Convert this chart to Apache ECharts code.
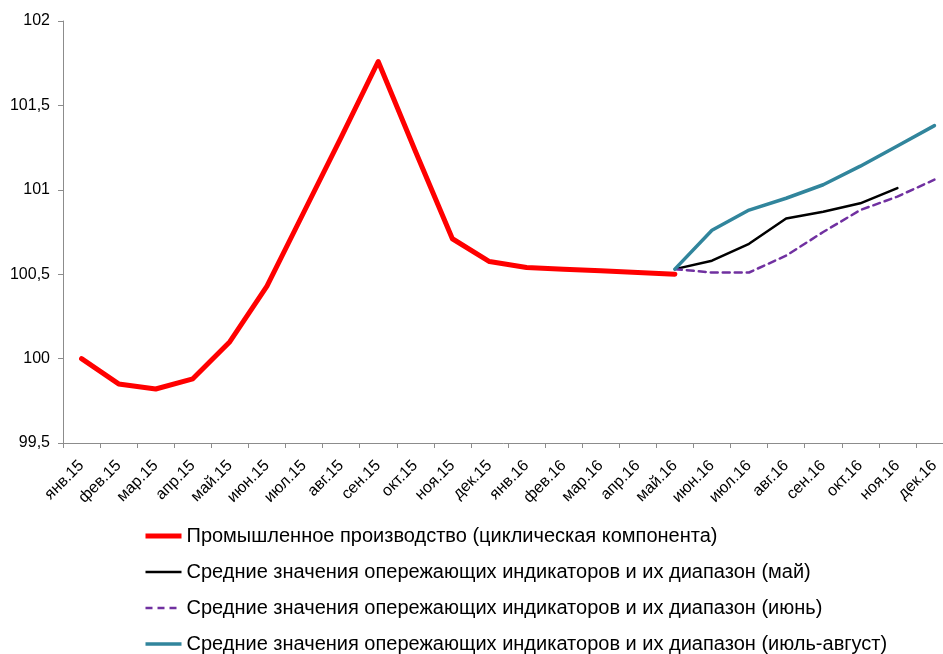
<!DOCTYPE html>
<html>
<head>
<meta charset="utf-8">
<script src="https://cdn.jsdelivr.net/npm/echarts@6/dist/echarts.min.js"></script>
<style>
  html, body { margin: 0; padding: 0; background: #fff; }
  #chart { width: 943px; height: 654px; }
</style>
</head>
<body>
<div id="chart"></div>
<script>
// Months, Jan 2015 – Dec 2016
const months = [
  'янв.15', 'фев.15', 'мар.15', 'апр.15', 'май.15', 'июн.15', 'июл.15', 'авг.15',
  'сен.15', 'окт.15', 'ноя.15', 'дек.15', 'янв.16', 'фев.16', 'мар.16', 'апр.16',
  'май.16', 'июн.16', 'июл.16', 'авг.16', 'сен.16', 'окт.16', 'ноя.16', 'дек.16'
];

// Industrial production, cyclical component
const industry = [
  100.00, 99.85, 99.82, 99.88, 100.10, 100.43, 100.87, 101.31,
  101.76, 101.23, 100.71, 100.575, 100.54, 100.53, 100.52, 100.51,
  100.50, null, null, null, null, null, null, null
];

// Leading-indicator averages: May vintage
const forecastMay = [
  null, null, null, null, null, null, null, null,
  null, null, null, null, null, null, null, null,
  100.53, 100.58, 100.68, 100.83, 100.87, 100.92, 101.01, null
];

// June vintage
const forecastJune = [
  null, null, null, null, null, null, null, null,
  null, null, null, null, null, null, null, null,
  100.53, 100.51, 100.51, 100.61, 100.75, 100.88, 100.96, 101.06
];

// July–August vintage
const forecastJulAug = [
  null, null, null, null, null, null, null, null,
  null, null, null, null, null, null, null, null,
  100.53, 100.76, 100.88, 100.95, 101.03, 101.14, 101.26, 101.38
];

const yTicks = { min: 99.5, max: 102, step: 0.5 };

const seriesNames = [
  'Промышленное производство (циклическая компонента)',
  'Средние значения опережающих индикаторов и их диапазон (май)',
  'Средние значения опережающих индикаторов и их диапазон (июнь)',
  'Средние значения опережающих индикаторов и их диапазон (июль-август)'
];

const font = 'Liberation Sans, Arial, sans-serif';
const chart = echarts.init(document.getElementById('chart'), null, { renderer: 'canvas' });

// Line style for each series, shared by the plot and the legend keys
const styles = [
  { color: '#ff0000', width: 5, type: 'solid' },
  { color: '#000000', width: 2.5, type: 'solid' },
  { color: '#7030a0', width: 2.5, type: [7, 5] },
  { color: '#31859c', width: 3.5, type: 'solid' }
];

function lineSeries(name, data, st) {
  return {
    name: name,
    type: 'line',
    data: data,
    symbol: 'none',
    symbolSize: 0,
    showSymbol: false,
    connectNulls: false,
    animation: false,
    lineStyle: { color: st.color, width: st.width, type: st.type, cap: 'round', join: 'round' },
    itemStyle: { color: st.color }
  };
}

chart.setOption({
  backgroundColor: '#ffffff',
  animation: false,
  grid: { left: 63, top: 21, width: 890, height: 422, containLabel: false, outerBoundsMode: 'none' },
  xAxis: {
    type: 'category',
    data: months,
    boundaryGap: true,
    axisLine: { lineStyle: { color: '#8c8c8c', width: 1 } },
    axisTick: { show: true, length: 5, lineStyle: { color: '#8c8c8c' } },
    axisLabel: {
      rotate: 45,
      interval: 0,
      margin: 20,
      color: '#000',
      fontSize: 16,
      fontFamily: font
    },
    splitLine: { show: false }
  },
  yAxis: {
    type: 'value',
    min: yTicks.min,
    max: yTicks.max,
    interval: yTicks.step,
    axisLine: { show: true, lineStyle: { color: '#8c8c8c', width: 1 } },
    axisTick: { show: true, length: 5, lineStyle: { color: '#8c8c8c' } },
    axisLabel: {
      margin: 13,
      color: '#000',
      fontSize: 16,
      fontFamily: font,
      formatter: v => String(+v.toFixed(1)).replace('.', ',')
    },
    splitLine: { show: false }
  },
  legend: {
    orient: 'vertical',
    left: 138,
    top: 521,
    height: 200,
    itemWidth: 36,
    itemHeight: 14,
    itemGap: 16,
    itemStyle: { opacity: 0 },
    textStyle: { color: '#000', fontSize: 20, fontFamily: font },
    data: seriesNames.map((n, i) => ({
      name: n,
      lineStyle: { color: styles[i].color, width: styles[i].width, type: styles[i].type, cap: 'butt' }
    }))
  },
  series: [
    lineSeries(seriesNames[0], industry, styles[0]),
    lineSeries(seriesNames[1], forecastMay, styles[1]),
    lineSeries(seriesNames[2], forecastJune, styles[2]),
    lineSeries(seriesNames[3], forecastJulAug, styles[3])
  ]
});
</script>
</body>
</html>
